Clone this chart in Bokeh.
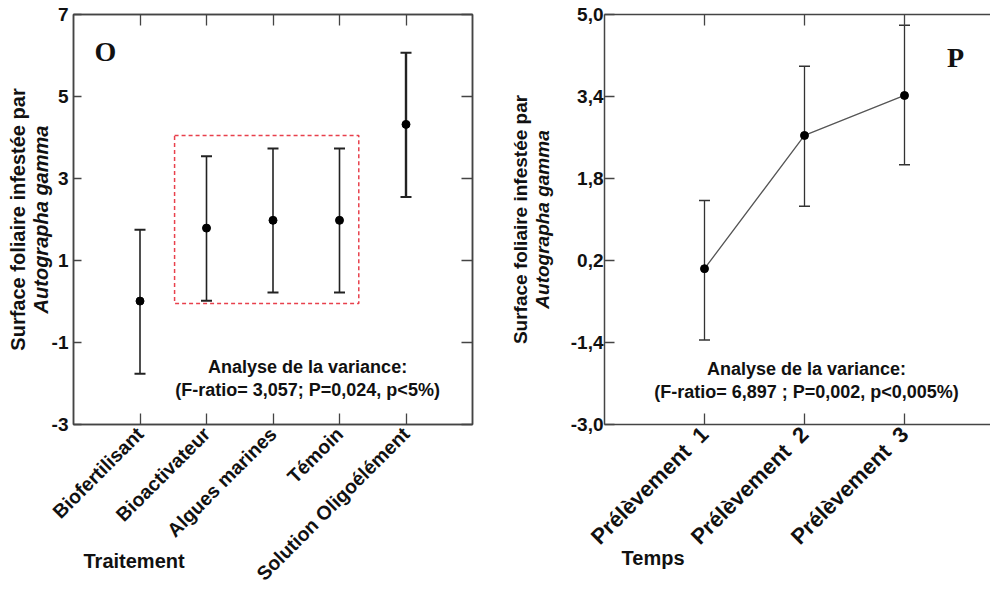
import math
import numpy as np
from bokeh.plotting import figure
from bokeh.layouts import row
from bokeh.models import (ColumnDataSource, Whisker, TeeHead, LinearAxis, FixedTicker,
                          Range1d, Label, BoxAnnotation)
from bokeh.embed import file_html
from bokeh.resources import INLINE

# ---------------- data: panel O ----------------
traitements = ["Biofertilisant", "Bioactivateur", "Algues marines", "Témoin", "Solution Oligoélément"]
moy_O = [0.01, 1.79, 1.98, 1.98, 4.32]
haut_O = [1.75, 3.54, 3.73, 3.73, 6.07]
bas_O = [-1.76, 0.02, 0.22, 0.22, 2.55]
yticks_O = [-3, -1, 1, 3, 5, 7]
ylabels_O = ["-3", "-1", "1", "3", "5", "7"]

# ---------------- data: panel P ----------------
temps = ["Prélèvement\u00a0\u00a01", "Prélèvement\u00a0\u00a02", "Prélèvement\u00a0\u00a03"]
moy_P = [0.04, 2.64, 3.42]
haut_P = [1.37, 3.99, 4.79]
bas_P = [-1.35, 1.26, 2.07]
yticks_P = [-3.0, -1.4, 0.2, 1.8, 3.4, 5.0]
ylabels_P = ["-3,0", "-1,4", "0,2", "1,8", "3,4", "5,0"]

FONT = "Liberation Sans"
AXC = "#444444"
TXT = "#111111"
NBSP = "\u00a0"


def base_fig(width, xr, yr, left, right):
    p = figure(width=width, height=590, x_range=xr, y_range=yr,
               output_backend="svg", toolbar_location=None,
               min_border_left=left, min_border_right=right,
               min_border_top=14, min_border_bottom=166)
    p.grid.grid_line_color = None
    p.background_fill_color = "white"
    p.border_fill_color = "white"
    p.outline_line_color = None
    return p


def style_axis(ax, size="19px"):
    ax.axis_line_color = AXC
    ax.axis_line_width = 1.5
    ax.major_tick_line_color = AXC
    ax.major_tick_line_width = 1.3
    ax.minor_tick_line_color = None
    ax.major_label_text_font = FONT
    ax.major_label_text_font_style = "bold"
    ax.major_label_text_font_size = size
    ax.major_label_text_color = TXT
    ax.axis_label_text_font = FONT
    ax.axis_label_text_font_style = "bold"
    ax.axis_label_text_color = TXT


def blank_axis(ax, ticks):
    ax.ticker = FixedTicker(ticks=ticks)
    ax.major_label_overrides = {t: "" for t in ticks}
    ax.major_label_standoff = 0
    ax.major_tick_out = 0
    ax.major_tick_in = 11
    ax.minor_tick_line_color = None


def set_xlabel(ax, text, standoff, pad):
    # centred label; trailing non-breaking spaces shift the visible word to the left
    ax.axis_label = text + NBSP * pad
    ax.axis_label_text_font_size = "20px"
    ax.axis_label_standoff = standoff


def y_titles(p, main_ax, size, standoff_main):
    main_ax.axis_label = "Autographa gamma"
    main_ax.axis_label_text_font_style = "bold italic"
    main_ax.axis_label_text_font_size = size
    main_ax.axis_label_standoff = standoff_main
    outer = LinearAxis(axis_label="Surface foliaire infestée par", ticker=FixedTicker(ticks=[]))
    style_axis(outer)
    outer.axis_line_color = None
    outer.major_tick_line_color = None
    outer.axis_label_text_font_size = size
    outer.axis_label_standoff = -2
    p.add_layout(outer, "left")


# =============== panel O ===============
xO = list(range(1, len(traitements) + 1))
pO = base_fig(495, Range1d(0, len(traitements) + 1), Range1d(-3, 7), 73, 23)
pO.outline_line_color = AXC
pO.outline_line_width = 1.5

yl = pO.yaxis[0]
style_axis(yl)
yl.ticker = FixedTicker(ticks=yticks_O)
yl.major_label_overrides = {t: s for t, s in zip(yticks_O, ylabels_O)}
yl.major_tick_in = 8
yl.major_tick_out = 0
yl.major_label_standoff = 5
y_titles(pO, yl, "20px", -3)

xb = pO.xaxis[0]
style_axis(xb, "19.5px")
xb.ticker = FixedTicker(ticks=xO)
xb.major_label_overrides = {i: t for i, t in zip(xO, traitements)}
xb.major_label_orientation = math.pi / 4
xb.major_tick_in = 11
xb.major_tick_out = 0
xb.major_label_standoff = 6
set_xlabel(xb, "Traitement", -45, 50)

xt = LinearAxis()
style_axis(xt)
blank_axis(xt, xO)
pO.add_layout(xt, "above")
yr_ = LinearAxis()
style_axis(yr_)
blank_axis(yr_, yticks_O)
pO.add_layout(yr_, "right")

srcO = ColumnDataSource(dict(x=xO, m=moy_O, hi=haut_O, lo=bas_O,
                             w=[1.6, 1.6, 1.6, 1.6, 2.4]))
wO = Whisker(base="x", upper="hi", lower="lo", source=srcO, dimension="height",
             line_color="#222222", line_width="w",
             upper_head=TeeHead(size=11, line_color="#222222", line_width=2),
             lower_head=TeeHead(size=11, line_color="#222222", line_width=2))
pO.add_layout(wO)
pO.scatter("x", "m", source=srcO, size=8, color="black")

pO.add_layout(BoxAnnotation(left=1.52, right=4.29, bottom=-0.05, top=4.05,
                            fill_alpha=0, line_color="#e8404c", line_alpha=1.0,
                            line_width=1.5, line_dash="4 3"))

pO.add_layout(Label(x=0.48, y=6.1, text="O", text_font="Liberation Serif",
                    text_font_style="bold", text_font_size="28px",
                    text_align="center", text_baseline="middle", text_color=TXT))
pO.add_layout(Label(x=3.52, y=-1.59, text="Analyse de la variance:", text_font=FONT,
                    text_font_style="bold", text_font_size="18px",
                    text_align="center", text_baseline="middle", text_color=TXT))
pO.add_layout(Label(x=3.52, y=-2.15, text="(F-ratio= 3,057; P=0,024, p<5%)", text_font=FONT,
                    text_font_style="bold", text_font_size="18px",
                    text_align="center", text_baseline="middle", text_color=TXT))

# =============== panel P ===============
xP = list(range(1, len(temps) + 1))
pP = base_fig(495, Range1d(0, 3.86), Range1d(-3, 5), 109, 0)

yl = pP.yaxis[0]
style_axis(yl)
yl.ticker = FixedTicker(ticks=yticks_P)
yl.major_label_overrides = {t: s for t, s in zip(yticks_P, ylabels_P)}
yl.major_tick_in = 10
yl.major_tick_out = 0
yl.major_label_standoff = 1
y_titles(pP, yl, "19px", 15)

xb = pP.xaxis[0]
style_axis(xb, "22px")
xb.ticker = FixedTicker(ticks=xP)
xb.major_label_overrides = {i: t for i, t in zip(xP, temps)}
xb.major_label_orientation = math.pi / 4
xb.major_tick_in = 11
xb.major_tick_out = 0
xb.major_label_standoff = 6
set_xlabel(xb, "Temps", -14, 52)

xt = LinearAxis()
style_axis(xt)
blank_axis(xt, xP)
pP.add_layout(xt, "above")

srcP = ColumnDataSource(dict(x=xP, m=moy_P, hi=haut_P, lo=bas_P))
pP.line("x", "m", source=srcP, line_color="#555555", line_width=1.3)
wP = Whisker(base="x", upper="hi", lower="lo", source=srcP, dimension="height",
             line_color="#333333", line_width=1.3,
             upper_head=TeeHead(size=11, line_color="#333333", line_width=1.5),
             lower_head=TeeHead(size=11, line_color="#333333", line_width=1.5))
pP.add_layout(wP)
pP.scatter("x", "m", source=srcP, size=8, color="black")

pP.add_layout(Label(x=3.51, y=4.16, text="P", text_font="Liberation Serif",
                    text_font_style="bold", text_font_size="28px",
                    text_align="center", text_baseline="middle", text_color=TXT))
pP.add_layout(Label(x=2.02, y=-1.91, text="Analyse de la variance:", text_font=FONT,
                    text_font_style="bold", text_font_size="18px",
                    text_align="center", text_baseline="middle", text_color=TXT))
pP.add_layout(Label(x=2.02, y=-2.36, text="(F-ratio= 6,897 ; P=0,002, p<0,005%)", text_font=FONT,
                    text_font_style="bold", text_font_size="18px",
                    text_align="center", text_baseline="middle", text_color=TXT))

layout = row(pO, pP)
open("out.html", "w").write(file_html(layout, INLINE))
